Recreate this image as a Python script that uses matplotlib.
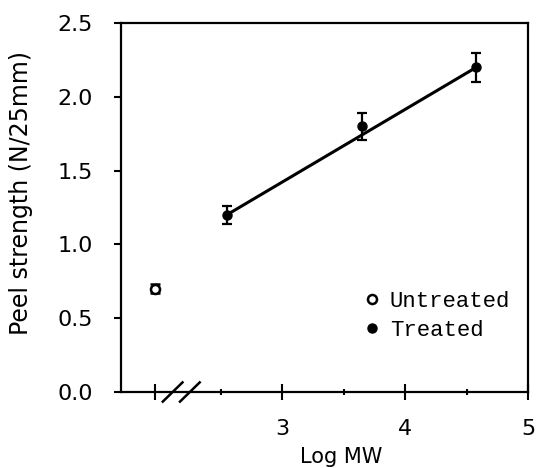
import numpy as np
import matplotlib
matplotlib.use('Agg')
import matplotlib.pyplot as plt
from matplotlib.lines import Line2D

# untreated reference point
untreated_x = [1.97]
untreated_y = [0.70]
untreated_err = [0.03]

# treated samples
treated_x = [2.55, 3.65, 4.58]
treated_y = [1.20, 1.80, 2.20]
treated_err = [0.06, 0.09, 0.10]

xticks = [1.97, 3, 4, 5]
xticklabels = ['', '3', '4', '5']
yticks = [0.0, 0.5, 1.0, 1.5, 2.0, 2.5]

fig = plt.figure(figsize=(5.36, 4.68), dpi=100)
ax = fig.add_axes([121 / 536, 1 - 392 / 468, 407 / 536, 369 / 468])

ax.errorbar(untreated_x, untreated_y, yerr=untreated_err, fmt='o', mfc='white', mec='black',
            mew=1.8, ms=6.5, ecolor='black', elinewidth=1.6, capsize=3.3, capthick=1.6)
ax.errorbar(treated_x, treated_y, yerr=treated_err, fmt='o', color='black',
            ms=6.5, elinewidth=1.6, capsize=3.3, capthick=1.6)

# line through the treated data
ax.plot([treated_x[0], treated_x[-1]], [treated_y[0], treated_y[-1]], color='black', lw=2.2)

ax.set_xlim(1.69, 5.0)
ax.set_ylim(0, 2.5)
ax.set_xticks(xticks)
ax.set_xticklabels(xticklabels)
ax.set_xticks([2.5, 3.5, 4.5], minor=True)
ax.set_yticks(yticks)
ax.set_yticklabels(['%.1f' % v for v in yticks])
ax.tick_params(axis='x', direction='inout', length=11.5, width=1.5, labelsize=16, pad=14)
ax.tick_params(axis='x', which='minor', direction='inout', length=5, width=1.5)
ax.tick_params(axis='y', direction='out', length=5, width=1.5, labelsize=16, pad=15)
for s in ax.spines.values():
    s.set_linewidth(1.6)

# axis break marks
for xb in [2.11, 2.25]:
    ax.plot([xb - 0.08, xb + 0.08], [-0.065, 0.065], color='black', lw=1.8, clip_on=False)

ax.set_xlabel('Log MW', fontsize=15)
ax.xaxis.set_label_coords(0.54, -0.148)
ax.set_ylabel('Peel strength (N/25mm)', fontsize=17)
ax.yaxis.set_label_coords(-0.215, 0.54)

handles = [Line2D([], [], ls='', marker='o', ms=6.5, mfc='white', mec='black', mew=1.8),
           Line2D([], [], ls='', marker='o', ms=6.5, color='black')]
ax.legend(handles, ['Untreated', 'Treated'], loc='center left', bbox_to_anchor=(0.6, 0.207),
          frameon=False, borderpad=0, borderaxespad=0, handlelength=0.6, handletextpad=0.5,
          labelspacing=0.35, prop={'family': 'Liberation Mono', 'size': 16})

fig.savefig('out.png', dpi=100)
